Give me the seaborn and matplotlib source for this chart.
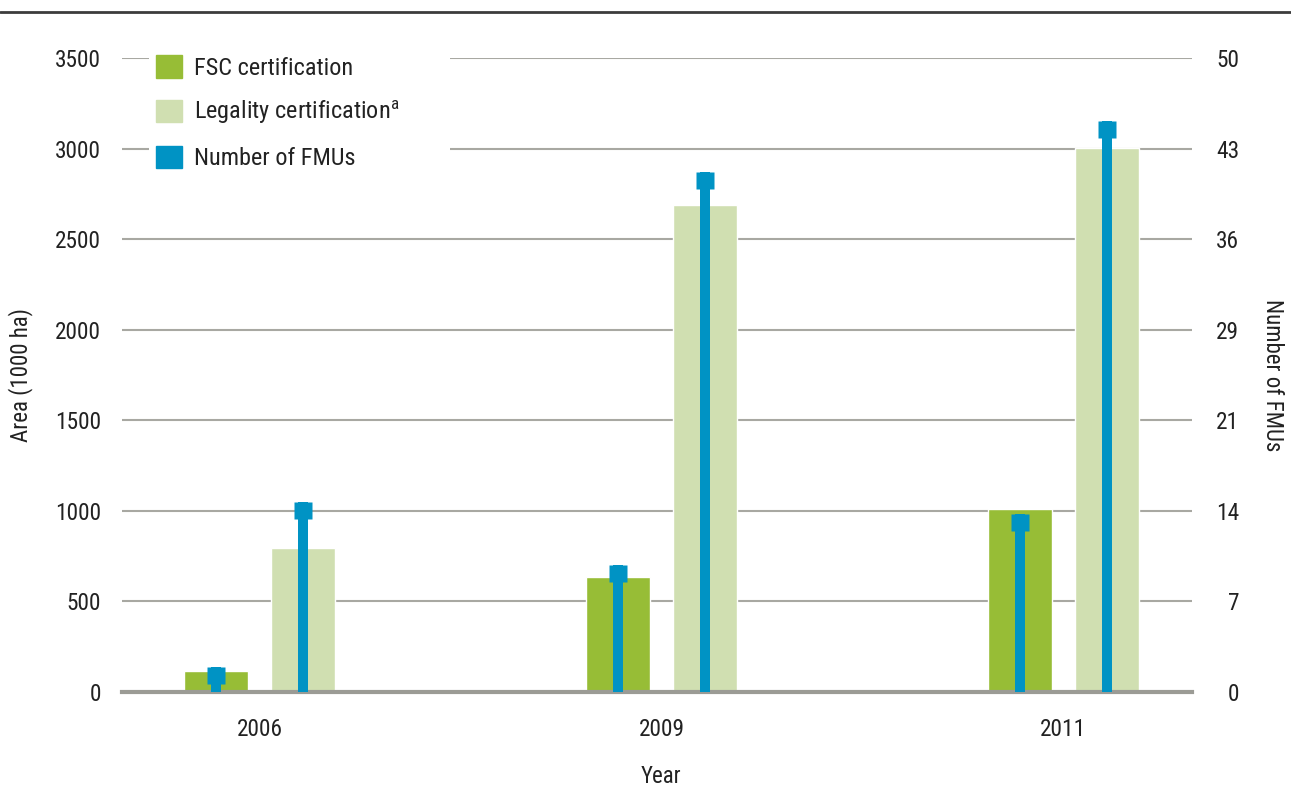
import numpy as np
import pandas as pd
import seaborn as sns
import matplotlib.pyplot as plt
from matplotlib.patches import Patch
from matplotlib.lines import Line2D
from matplotlib.path import Path

# data
years = ['2006', '2009', '2011']
fsc_area = [115, 635, 1010]        # 1000 ha
legal_area = [795, 2690, 3005]     # 1000 ha
fmu_fsc = [2, 10, 14]
fmu_legal = [15, 41, 45]
left_ticks = [0, 500, 1000, 1500, 2000, 2500, 3000, 3500]
right_labels = ['0', '7', '14', '21', '29', '36', '43', '50']

green = '#97bd36'
light = '#d0dfb1'
blue = '#0093c4'
grid_col = '#a8a8a2'
txt = '#222222'

sns.set_theme(style='white')
plt.rcParams['font.family'] = ['Roboto Condensed', 'Liberation Sans Narrow', 'Open Sans Condensed',
                               'Roboto', 'DejaVu Sans']
plt.rcParams['mathtext.default'] = 'regular'

df = pd.DataFrame({
    'Year': years * 2,
    'Area': fsc_area + legal_area,
    'Series': ['FSC certification'] * 3 + ['Legality certification'] * 3,
})

fig = plt.figure(figsize=(12.91, 7.88), dpi=100)
ax = fig.add_axes([122/1291, 1 - 692/788, 1070/1291, 634/788])

sns.barplot(data=df, x='Year', y='Area', hue='Series', palette=[green, light],
            width=0.432, gap=0.264, saturation=1, legend=False, ax=ax)

ax.set_xlim(-0.342, 2.32)
ax.set_ylim(0, 3500)
ax.set_yticks(left_ticks)
ax.set_axisbelow(True)
ax.yaxis.grid(True, color=grid_col, lw=1.5)
for s in ['top', 'right', 'left']:
    ax.spines[s].set_visible(False)
ax.spines['bottom'].set_color('#9b9b95')
ax.spines['bottom'].set_linewidth(3)
ax.tick_params(axis='both', length=0, labelsize=16.8, colors=txt)
ax.tick_params(axis='y', pad=15)
ax.tick_params(axis='x', pad=19)
ax.set_xlabel('Year', fontsize=16.5, color=txt)
ax.set_ylabel('Area (1000 ha)', fontsize=16.5, color=txt)
ax.xaxis.set_label_coords(0.5037, -0.115)
ax.yaxis.set_label_coords(-0.083, 0.5)

# number of FMUs on a second axis
ax2 = ax.twinx()
ax2.set_ylim(0, 50)
ax2.set_yticks(np.linspace(0, 50, 8))
ax2.set_yticklabels(right_labels)
for s in ax2.spines.values():
    s.set_visible(False)
ax2.tick_params(axis='y', length=0, labelsize=16.8, pad=34, colors=txt)
for t in ax2.get_yticklabels():
    t.set_horizontalalignment('right')
ax2.set_ylabel('Number of FMUs', fontsize=16.5, rotation=270, color=txt)
ax2.yaxis.set_label_coords(1.086, 0.5)

off = 0.108
xs = np.arange(len(years))
sq = Path([(-0.5, -1), (0.5, -1), (0.5, 0), (-0.5, 0), (-0.5, -1)],
          [Path.MOVETO, Path.LINETO, Path.LINETO, Path.LINETO, Path.CLOSEPOLY])
for pos, vals in [(xs - off, fmu_fsc), (xs + off, fmu_legal)]:
    ax2.vlines(pos, 0, vals, color=blue, lw=7.2)
    ax2.plot(pos, vals, ls='none', marker=sq, ms=24.5, color=blue, mec='none')

handles = [Patch(color=green), Patch(color=light), Patch(color=blue)]
labels = ['FSC certification', 'Legality certification$^{a}$', 'Number of FMUs']
leg = ax.legend(handles, labels, loc='upper left', bbox_to_anchor=(0.025, 1.016, 0.282, 0.0),
                mode='expand', frameon=True, fontsize=17.5, handlelength=1.05, handleheight=1.05,
                handletextpad=0.5, labelspacing=0.8, borderpad=0.3, borderaxespad=0)
leg.get_frame().set_facecolor('white')
leg.get_frame().set_edgecolor('none')
leg.get_frame().set_alpha(1)
leg.set_zorder(10)
for t in leg.get_texts():
    t.set_color(txt)

# rule across the top of the figure
fig.add_artist(Line2D([0, 1], [1 - 12/788, 1 - 12/788], color='#3c3c3c', lw=2))

fig.savefig('out.png', dpi=100)
